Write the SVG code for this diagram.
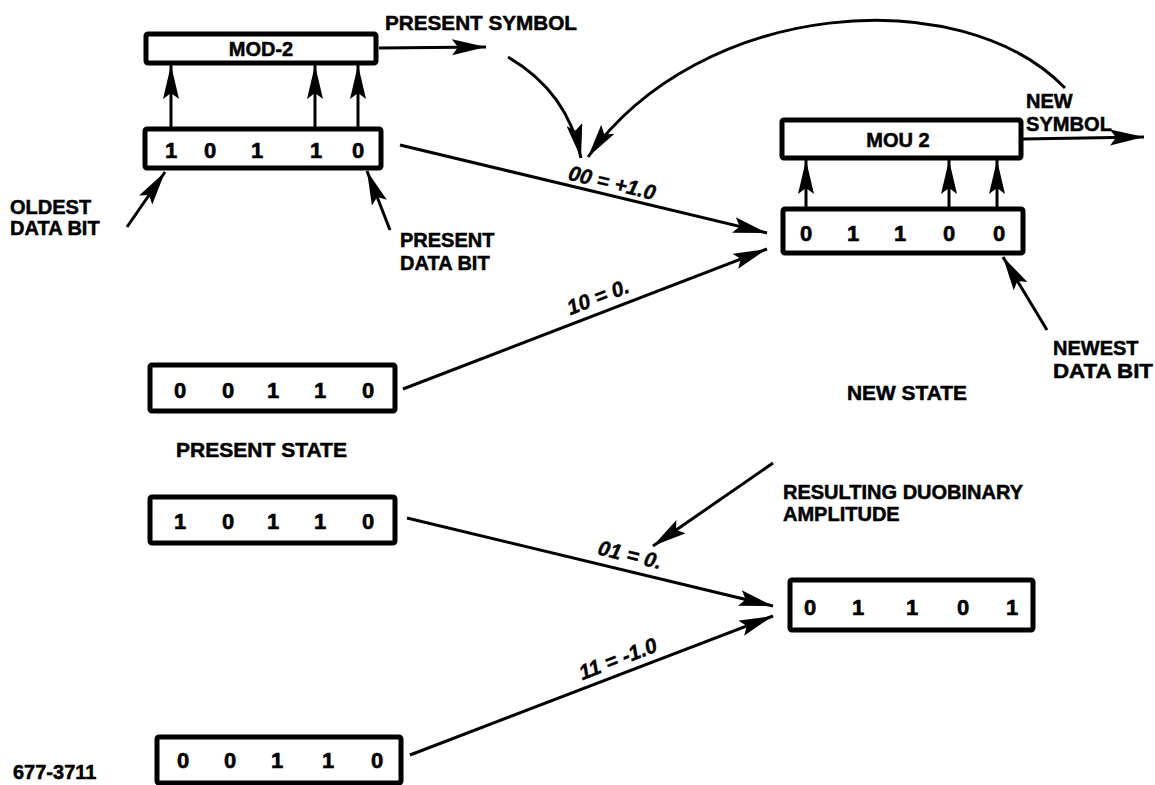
<svg xmlns="http://www.w3.org/2000/svg" width="1155" height="785" viewBox="0 0 1155 785">
<defs>
<style>
.box{fill:#fff;stroke:#000;stroke-width:5;}
.t{font-family:"Liberation Sans",Arial,sans-serif;font-weight:bold;font-size:20px;fill:#000;stroke:#000;stroke-width:0.5;}
.d{font-family:"Liberation Sans",Arial,sans-serif;font-weight:bold;font-size:22px;fill:#000;stroke:#000;stroke-width:0.6;text-anchor:middle;}
.lab{font-family:"Liberation Sans",Arial,sans-serif;font-weight:bold;font-style:italic;font-size:21px;fill:#000;stroke:#000;stroke-width:0.4;text-anchor:middle;}
.c{fill:none;stroke:#000;stroke-width:3;marker-end:url(#ah);}
</style>
<marker id="ah" markerUnits="userSpaceOnUse" markerWidth="36" markerHeight="18" refX="34" refY="8" orient="auto">
<path d="M0,0 L34,8 L0,16 L6,8 z" fill="#000"/>
</marker>
</defs>
<rect width="1155" height="785" fill="#fff"/>

<g id="connectors">
<line class="c" x1="171" y1="127" x2="171" y2="65"/>
<line class="c" x1="315" y1="127" x2="315" y2="65"/>
<line class="c" x1="358" y1="127" x2="358" y2="65"/>
<line class="c" x1="806" y1="207" x2="806" y2="160"/>
<line class="c" x1="949" y1="207" x2="949" y2="160"/>
<line class="c" x1="997" y1="207" x2="997" y2="160"/>
<line class="c" x1="379" y1="48" x2="486" y2="47"/>
<path class="c" d="M508,57 Q568,92 581,158"/>
<path class="c" d="M1065,88 C960,-20 700,0 588,157"/>
<line class="c" x1="1023" y1="139" x2="1144" y2="137"/>
<line class="c" x1="400" y1="145" x2="767" y2="233"/>
<line class="c" x1="403" y1="389" x2="767" y2="249"/>
<line class="c" x1="407" y1="518" x2="773" y2="606"/>
<line class="c" x1="410" y1="755" x2="773" y2="616"/>
<line class="c" x1="127" y1="227" x2="165" y2="172"/>
<line class="c" x1="390" y1="230" x2="367" y2="171"/>
<line class="c" x1="1047" y1="330" x2="1003" y2="257"/>
<line class="c" x1="773" y1="463" x2="653" y2="546"/>
</g>

<g id="mod2-left">
<rect class="box" x="146" y="34" width="230" height="29" rx="2" stroke-width="4"/>
<text class="t" x="261" y="56" text-anchor="middle">MOD-2</text>
</g>

<g id="register-present-top">
<rect class="box" x="145" y="129" width="236" height="39" rx="2"/>
<text class="d" x="171" y="158">1</text>
<text class="d" x="210" y="158">0</text>
<text class="d" x="257" y="158">1</text>
<text class="d" x="316" y="158">1</text>
<text class="d" x="358" y="158">0</text>
</g>

<g id="mod2-right">
<rect class="box" x="782" y="120" width="239" height="38" rx="2" stroke-width="4"/>
<text class="t" x="898" y="147" text-anchor="middle">MOU 2</text>
</g>

<g id="register-new-top">
<rect class="box" x="783" y="209" width="240" height="44" rx="2"/>
<text class="d" x="806" y="241">0</text>
<text class="d" x="853" y="241">1</text>
<text class="d" x="900" y="241">1</text>
<text class="d" x="949" y="241">0</text>
<text class="d" x="999" y="241">0</text>
</g>

<g id="register-present-2">
<rect class="box" x="150" y="365" width="245" height="46" rx="2"/>
<text class="d" x="180" y="398">0</text>
<text class="d" x="228" y="398">0</text>
<text class="d" x="273" y="398">1</text>
<text class="d" x="320" y="398">1</text>
<text class="d" x="368" y="398">0</text>
</g>

<g id="register-present-3">
<rect class="box" x="150" y="497" width="245" height="46" rx="2"/>
<text class="d" x="180" y="529">1</text>
<text class="d" x="228" y="529">0</text>
<text class="d" x="273" y="529">1</text>
<text class="d" x="320" y="529">1</text>
<text class="d" x="368" y="529">0</text>
</g>

<g id="register-new-bottom">
<rect class="box" x="790" y="580" width="243" height="50" rx="2"/>
<text class="d" x="810" y="615">0</text>
<text class="d" x="858" y="615">1</text>
<text class="d" x="912" y="615">1</text>
<text class="d" x="963" y="615">0</text>
<text class="d" x="1012" y="615">1</text>
</g>

<g id="register-present-4">
<rect class="box" x="157" y="737" width="244" height="46" rx="2"/>
<text class="d" x="183" y="768">0</text>
<text class="d" x="230" y="768">0</text>
<text class="d" x="277" y="768">1</text>
<text class="d" x="328" y="768">1</text>
<text class="d" x="377" y="768">0</text>
</g>

<g id="labels">
<text class="t" x="385" y="30" font-size="21" textLength="192" lengthAdjust="spacingAndGlyphs">PRESENT SYMBOL</text>
<text class="t" x="10" y="214">OLDEST</text>
<text class="t" x="10" y="235">DATA BIT</text>
<text class="t" x="400" y="247">PRESENT</text>
<text class="t" x="400" y="270">DATA BIT</text>
<text class="t" x="1026" y="108">NEW</text>
<text class="t" x="1026" y="131" textLength="86" lengthAdjust="spacingAndGlyphs">SYMBOL</text>
<text class="t" x="1053" y="355">NEWEST</text>
<text class="t" x="1053" y="378" textLength="100" lengthAdjust="spacingAndGlyphs">DATA BIT</text>
<text class="t" x="847" y="400" textLength="120" lengthAdjust="spacingAndGlyphs">NEW STATE</text>
<text class="t" x="176" y="457" textLength="171" lengthAdjust="spacingAndGlyphs">PRESENT STATE</text>
<text class="t" x="783" y="499">RESULTING DUOBINARY</text>
<text class="t" x="783" y="521">AMPLITUDE</text>
<text class="t" x="13" y="779" font-size="16">677-3711</text>
<text class="lab" transform="translate(612,183) rotate(13.5)" y="7">00 = +1.0</text>
<text class="lab" transform="translate(598,297) rotate(-21)" y="7">10 = 0.</text>
<text class="lab" transform="translate(630,555) rotate(13.7)" y="7">01 = 0.</text>
<text class="lab" transform="translate(618,659) rotate(-21)" y="7">11 = -1.0</text>
</g>
</svg>
